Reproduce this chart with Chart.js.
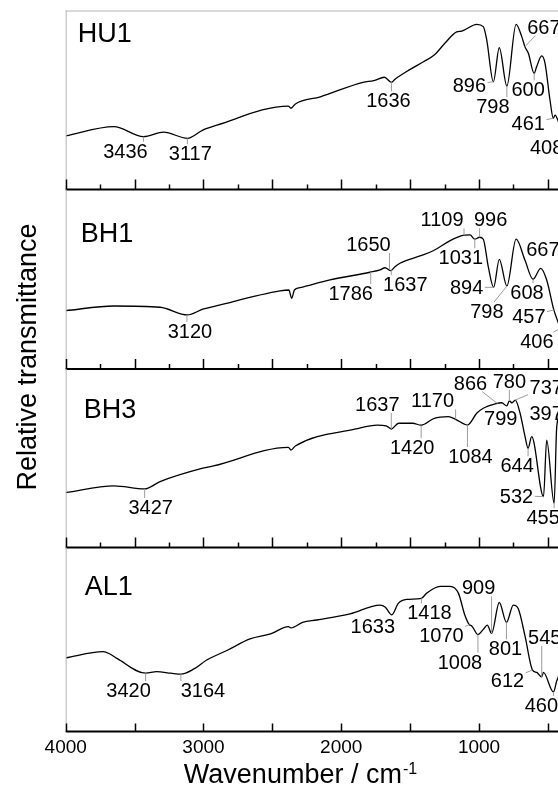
<!DOCTYPE html>
<html>
<head>
<meta charset="utf-8">
<title>FTIR spectra</title>
<script src="https://cdn.jsdelivr.net/npm/chart.js@4.4.0/dist/chart.umd.min.js"></script>
<style>
  html, body { margin: 0; padding: 0; background: #fff; }
  #wrap { position: relative; width: 558px; height: 787px; overflow: hidden; }
  #wrap canvas { position: absolute; left: 0; top: 0; }
</style>
</head>
<body>
<div id="wrap">
  <canvas id="hu1" width="570" height="787"></canvas>
  <canvas id="bh1" width="570" height="787"></canvas>
  <canvas id="bh3" width="570" height="787"></canvas>
  <canvas id="al1" width="570" height="787"></canvas>
</div>
<script>
// x tick labels (wavenumber, cm-1)
const waveTicks = [4000, 3000, 2000, 1000];

// HU1 spectrum: wavenumber / relative transmittance (0..100 within the panel)
const hu1Wave = [4000, 3650, 3436, 3289, 3117, 3005, 2902, 2384, 2365, 2333, 2152, 1842, 1764, 1687, 1636, 1610, 1506, 1403, 1325, 1248, 1162, 1126, 1017, 969, 944, 896, 853, 798, 731, 690, 667, 642, 600, 582, 545, 521, 485, 461, 448, 424, 408, 400];
const hu1T = [29.9, 35.1, 29.5, 32.0, 28.6, 33.2, 36.0, 46.6, 45.4, 47.8, 51.8, 59.9, 60.8, 62.7, 59.9, 61.6, 66.8, 71.4, 75.1, 81.7, 88.1, 88.5, 92.3, 91.0, 83.5, 60.2, 79.2, 57.8, 92.3, 85.4, 79.8, 76.1, 64.9, 68.6, 74.6, 70.5, 50.0, 39.8, 41.6, 37.9, 34.4, 36.0];
const hu1Peaks = [3436, 3117, 1636, 896, 798, 667, 600, 461, 408];

// BH1 spectrum
const bh1Wave = [4000, 3650, 3315, 3116, 3005, 2902, 2444, 2380, 2360, 2340, 2299, 2082, 1791, 1718, 1682, 1640, 1610, 1574, 1428, 1332, 1210, 1126, 1065, 1031, 996, 969, 933, 894, 853, 798, 731, 667, 608, 552, 509, 457, 436, 406, 400];
const bh1T = [32.5, 35.1, 34.4, 30.1, 33.3, 35.3, 43.5, 44.0, 39.4, 44.0, 45.3, 49.6, 53.9, 55.2, 56.4, 54.8, 57.0, 58.9, 63.0, 65.9, 71.5, 74.3, 74.7, 72.3, 73.4, 72.3, 57.0, 45.5, 61.1, 46.2, 72.3, 60.7, 50.0, 56.1, 49.6, 32.9, 28.2, 22.8, 24.5];
const bh1Peaks = [3120, 1786, 1650, 1637, 1109, 1031, 996, 894, 798, 667, 608, 457, 406];

// BH3 spectrum
const bh3Wave = [4000, 3650, 3427, 3315, 3005, 2927, 2384, 2365, 2333, 1894, 1739, 1674, 1637, 1584, 1481, 1420, 1325, 1222, 1170, 1084, 1017, 969, 884, 835, 799, 780, 760, 737, 702, 666, 644, 618, 532, 509, 455, 436, 400];
const bh3T = [30.7, 34.5, 32.8, 36.9, 44.4, 45.7, 56.1, 54.6, 56.9, 66.4, 68.6, 68.2, 66.4, 69.6, 69.6, 68.5, 72.4, 73.3, 71.8, 68.6, 75.2, 78.0, 80.4, 81.1, 79.3, 82.1, 81.0, 82.6, 75.2, 62.1, 55.6, 62.1, 28.5, 60.2, 24.8, 67.7, 77.0];
const bh3Peaks = [3427, 1637, 1420, 1170, 1084, 866, 799, 780, 737, 644, 532, 455, 397];

// AL1 spectrum
const al1Wave = [4000, 3728, 3676, 3625, 3420, 3340, 3237, 3164, 3069, 2979, 2823, 2662, 2513, 2384, 2365, 2281, 2178, 1936, 1719, 1682, 1633, 1586, 1525, 1418, 1380, 1283, 1210, 1150, 1102, 1070, 1053, 1008, 969, 940, 909, 853, 801, 751, 715, 666, 612, 581, 545, 533, 460, 436, 400];
const al1T = [40.0, 43.4, 42.0, 39.6, 31.7, 32.5, 31.7, 31.2, 34.0, 38.7, 44.3, 50.3, 53.0, 57.0, 56.3, 59.3, 60.6, 63.9, 68.7, 67.7, 63.4, 69.6, 71.8, 72.4, 75.2, 78.9, 78.9, 75.2, 63.0, 58.0, 57.4, 52.7, 55.5, 57.8, 53.3, 70.1, 59.3, 68.7, 66.7, 51.8, 33.4, 32.1, 29.7, 32.1, 21.5, 27.4, 34.0];
const al1Peaks = [3420, 3164, 1633, 1418, 1070, 1008, 909, 801, 612, 545, 460];

// where each peak label sits, px offset from its point on the curve
const hu1LabelOffset = [[-18, 14], [3, 15], [-3, 18], [-24, 3], [-14, 20], [19, -20], [-6, 16], [-25, 5], [-14, 19]];
const bh1LabelOffset = [[3, 16], [-20, 21], [-21, -26], [14, 14], [-22, -16], [-14, 18], [11, -18], [-27, 0], [-20, 25], [18, -11], [-6, 13], [-25, 6], [-24, 13]];
const bh3LabelOffset = [[6, 18], [-14, -25], [-9, 22], [-23, -19], [3, 31], [-27, -21], [-6, 12], [0, -20], [31, -13], [-11, 17], [-27, -1], [-11, 14], [-16, 3]];
const al1LabelOffset = [[-17, 17], [22, 16], [-19, 11], [8, 14], [-28, 10], [-18, 27], [-13, -46], [-1, 26], [-25, 10], [3, -40], [-12, 13]];

const FONT = '"Liberation Sans", Arial, sans-serif';
Chart.defaults.font.family = FONT;
Chart.defaults.color = '#000';

const panels = [
  { id: 'hu1', name: 'HU1', wave: hu1Wave, t: hu1T, peaks: hu1Peaks, offs: hu1LabelOffset, top: 10.5, bottom: 189.5, nameX: 12, nameY: 31 },
  { id: 'bh1', name: 'BH1', wave: bh1Wave, t: bh1T, peaks: bh1Peaks, offs: bh1LabelOffset, top: 189.5, bottom: 369, nameX: 15, nameY: 52 },
  { id: 'bh3', name: 'BH3', wave: bh3Wave, t: bh3T, peaks: bh3Peaks, offs: bh3LabelOffset, top: 369, bottom: 547.5, nameX: 18, nameY: 49 },
  { id: 'al1', name: 'AL1', wave: al1Wave, t: al1T, peaks: al1Peaks, offs: al1LabelOffset, top: 547.5, bottom: 725.5, nameX: 19, nameY: 47.5 }
];

// value on the curve at wavenumber w (only used to hang the labels)
function curveAt(wave, t, w) {
  if (w >= wave[0]) return t[0];
  for (let i = 1; i < wave.length; i++) {
    if (w >= wave[i]) {
      const f = (wave[i - 1] - w) / (wave[i - 1] - wave[i]);
      return t[i - 1] + f * (t[i] - t[i - 1]);
    }
  }
  return t[t.length - 1];
}

const panelDecor = {
  id: 'panelDecor',
  afterDatasetsDraw(chart, args, o) {
    const { ctx, chartArea: a } = chart;
    const x = chart.scales.x, y = chart.scales.y;
    const p = o.panel;
    ctx.save();

    // frame: light left border (and top border for the first panel)
    ctx.strokeStyle = '#b5b5b5';
    ctx.lineWidth = 1;
    ctx.beginPath();
    ctx.moveTo(a.left + 0.5, a.top);
    ctx.lineTo(a.left + 0.5, a.bottom);
    if (o.first) {
      ctx.moveTo(a.left, a.top + 0.5);
      ctx.lineTo(a.right, a.top + 0.5);
    }
    ctx.stroke();

    // x axis line with inward ticks
    ctx.strokeStyle = '#000';
    ctx.lineWidth = 2;
    ctx.beginPath();
    ctx.moveTo(a.left, a.bottom);
    ctx.lineTo(a.right, a.bottom);
    ctx.stroke();
    ctx.lineWidth = 1.5;
    for (let w = 4000; w >= 400; w -= 250) {
      const major = w % 500 === 0;
      if (o.last && !major) continue;
      const len = o.last ? 8 : (major ? 10 : 5);
      const px = Math.round(x.getPixelForValue(w)) + 0.5;
      ctx.beginPath();
      ctx.moveTo(px, a.bottom);
      ctx.lineTo(px, a.bottom - len);
      ctx.stroke();
    }

    // sample name
    ctx.fillStyle = '#000';
    ctx.font = '27px ' + FONT;
    ctx.textAlign = 'left';
    ctx.textBaseline = 'alphabetic';
    ctx.fillText(p.name, a.left + p.nameX, a.top + p.nameY);

    // peak labels with grey leader lines
    ctx.font = '20px ' + FONT;
    ctx.textAlign = 'center';
    p.peaks.forEach((w, i) => {
      const txt = String(w);
      const px = x.getPixelForValue(w);
      const py = y.getPixelForValue(curveAt(p.wave, p.t, w));
      const lx = px + p.offs[i][0], ly = py + p.offs[i][1];
      const hw = ctx.measureText(txt).width / 2 + 1.5, hh = 9;
      let ex, ey;
      if (Math.abs(lx - px) <= hw) {
        ex = px;
        ey = ly > py ? ly - hh : ly + hh;
      } else {
        const vx = lx - px, vy = ly - py;
        const k = Math.min(hw / Math.abs(vx), vy ? hh / Math.abs(vy) : Infinity);
        ex = px + vx * (1 - k);
        ey = py + vy * (1 - k);
      }
      if (Math.hypot(ex - px, ey - py) > 3) {
        ctx.strokeStyle = '#9c9c9c';
        ctx.lineWidth = 1;
        ctx.beginPath();
        ctx.moveTo(px, py);
        ctx.lineTo(ex, ey);
        ctx.stroke();
      }
      ctx.fillText(txt, lx, ly + 7);
    });

    if (o.last) {
      // axis titles
      ctx.textAlign = 'left';
      ctx.font = '27px ' + FONT;
      const main = 'Wavenumber / cm';
      const mw = ctx.measureText(main).width;
      ctx.font = '16px ' + FONT;
      const sw = ctx.measureText('-1').width;
      const x0 = 300 - (mw + sw) / 2;
      ctx.font = '27px ' + FONT;
      ctx.fillText(main, x0, 783);
      ctx.font = '16px ' + FONT;
      ctx.fillText('-1', x0 + mw + 1, 774);

      ctx.save();
      ctx.translate(36, 357);
      ctx.rotate(-Math.PI / 2);
      ctx.font = '27px ' + FONT;
      ctx.textAlign = 'center';
      ctx.fillText('Relative transmittance', 0, 0);
      ctx.restore();
    }
    ctx.restore();
  }
};

panels.forEach((p, idx) => {
  const last = idx === panels.length - 1;
  new Chart(document.getElementById(p.id), {
    type: 'line',
    data: {
      datasets: [{
        data: p.wave.map((w, i) => ({ x: w, y: p.t[i] })),
        borderColor: '#000',
        borderWidth: 1.3,
        pointRadius: 0,
        cubicInterpolationMode: 'monotone',
        fill: false
      }]
    },
    options: {
      responsive: false,
      animation: false,
      events: [],
      layout: {
        padding: { left: 65.7, right: 8.3, top: p.top, bottom: last ? 23.7 : 787 - p.bottom }
      },
      plugins: {
        legend: { display: false },
        tooltip: { enabled: false },
        panelDecor: { panel: p, first: idx === 0, last: last }
      },
      scales: {
        x: {
          type: 'linear',
          min: 400,
          max: 4000,
          reverse: true,
          display: last,
          afterBuildTicks: s => { s.ticks = waveTicks.map(v => ({ value: v })); },
          grid: { display: false, drawTicks: false },
          border: { display: false },
          ticks: {
            autoSkip: false,
            maxRotation: 0,
            padding: 4.5,
            color: '#000',
            font: { size: 19 },
            callback: v => String(v)
          }
        },
        y: { display: false, min: 0, max: 100 }
      }
    },
    plugins: [panelDecor]
  });
});
</script>
</body>
</html>
